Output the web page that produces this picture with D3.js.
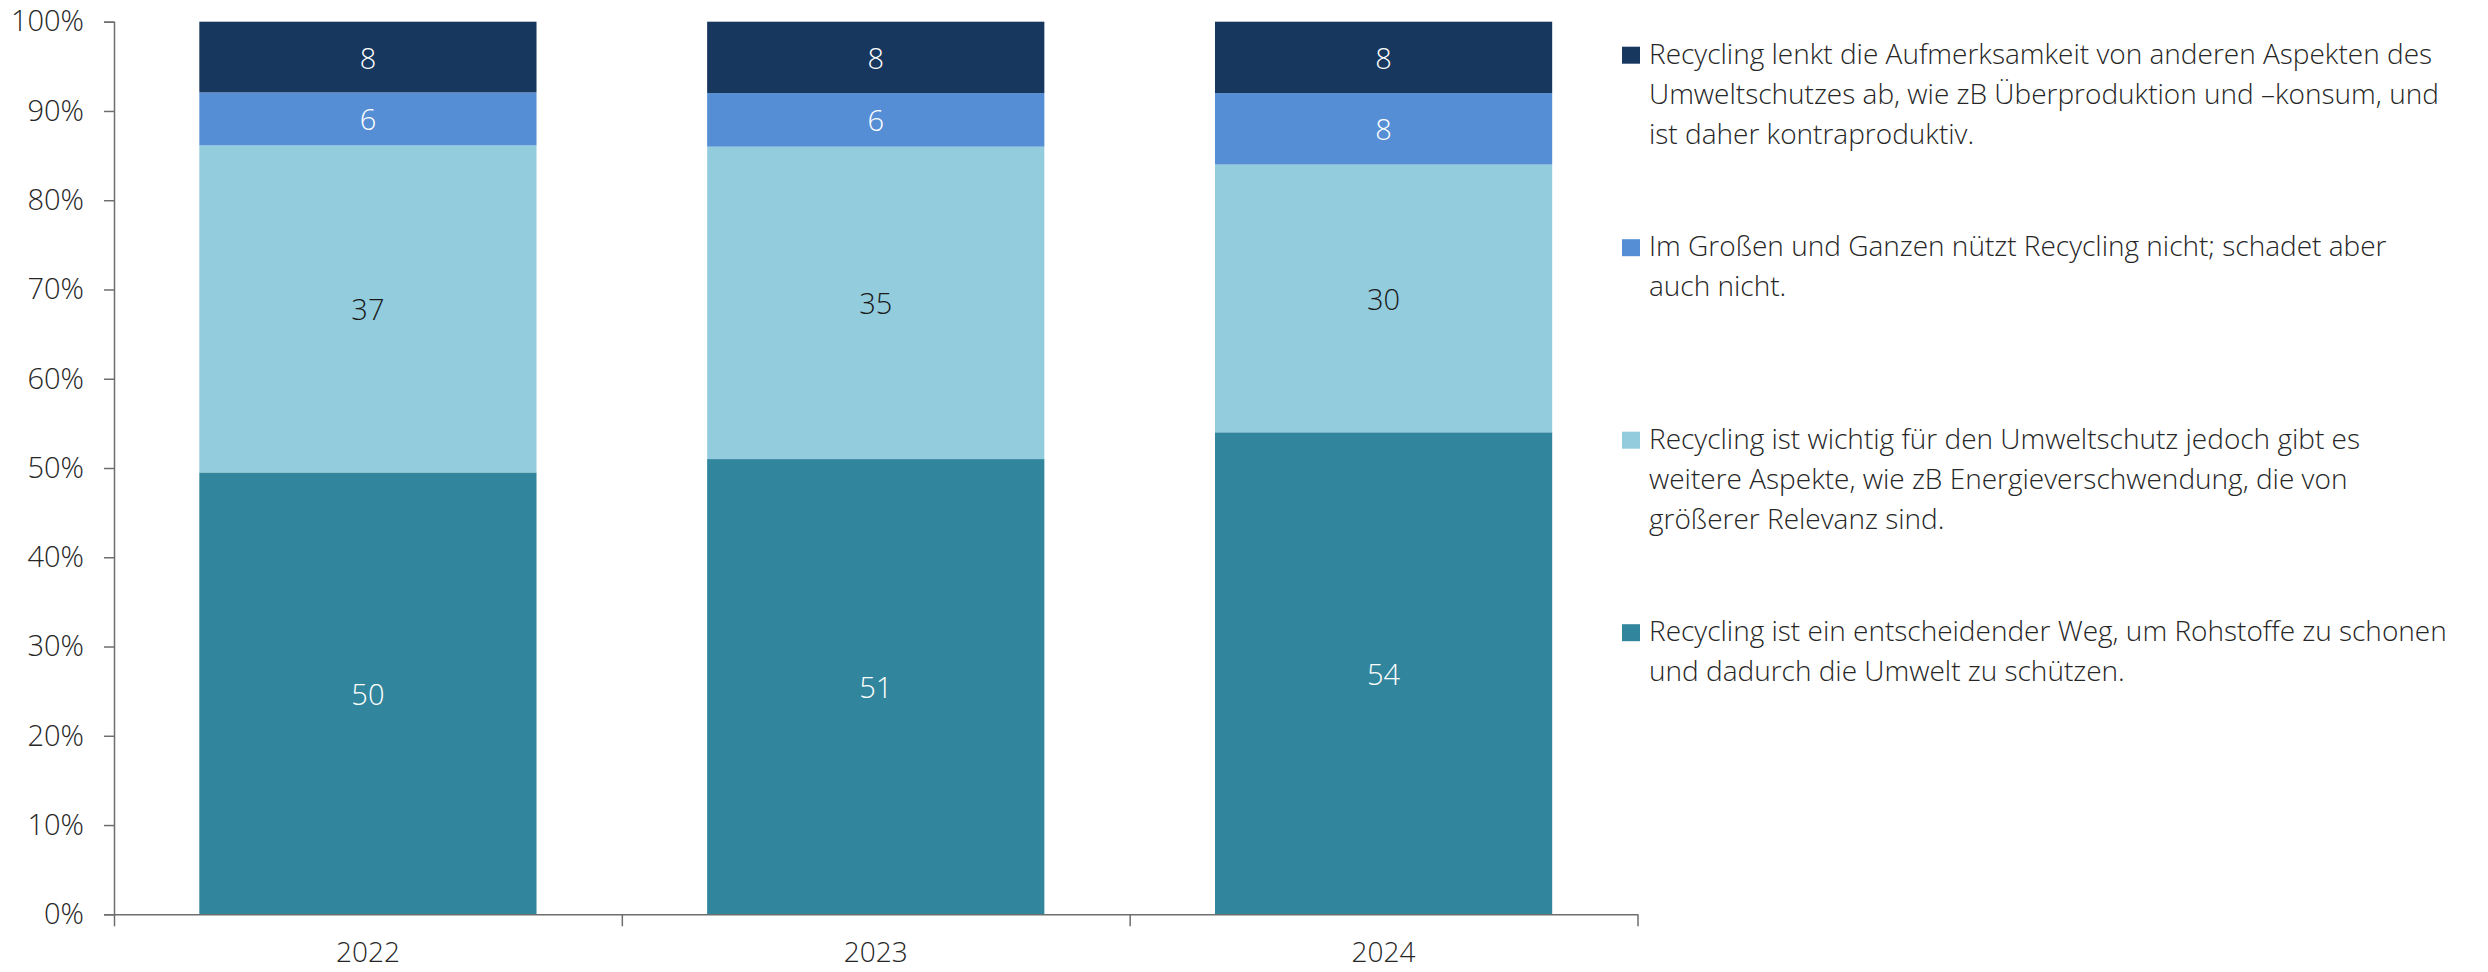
<!DOCTYPE html>
<html>
<head>
<meta charset="utf-8">
<script src="https://cdn.jsdelivr.net/npm/d3@7"></script>
<style>
  html, body { margin: 0; padding: 0; background: #ffffff; }
  svg { display: block; }
  text { font-family: "Open Sans", "Noto Sans", sans-serif; font-weight: 300; }
</style>
</head>
<body>
<svg id="chart" width="2488" height="972"></svg>
<script>
// ---- data ----
const categories = ["2022", "2023", "2024"];
const seriesKeys = ["s1", "s2", "s3", "s4"];
const seriesEntscheidend = [50, 51, 54];   // Recycling ist ein entscheidender Weg ...
const seriesWichtig      = [37, 35, 30];   // Recycling ist wichtig ... jedoch ...
const seriesNeutral      = [6, 6, 8];      // Im Großen und Ganzen ...
const seriesAblenkung    = [8, 8, 8];      // Recycling lenkt die Aufmerksamkeit ...
const yTickLabels = ["0%", "10%", "20%", "30%", "40%", "50%", "60%", "70%", "80%", "90%", "100%"];
const legendLines = {
  s4: ["Recycling lenkt die Aufmerksamkeit von anderen Aspekten des",
       "Umweltschutzes ab, wie zB Überproduktion und \u2013konsum, und",
       "ist daher kontraproduktiv."],
  s3: ["Im Großen und Ganzen nützt Recycling nicht; schadet aber",
       "auch nicht."],
  s2: ["Recycling ist wichtig für den Umweltschutz jedoch gibt es",
       "weitere Aspekte, wie zB Energieverschwendung, die von",
       "größerer Relevanz sind."],
  s1: ["Recycling ist ein entscheidender Weg, um Rohstoffe zu schonen",
       "und dadurch die Umwelt zu schützen."]
};
const colors = { s1: "#31859C", s2: "#93CDDD", s3: "#558ED5", s4: "#17375E" };
const labelColors = { s1: "#ffffff", s2: "#1a1a1a", s3: "#ffffff", s4: "#ffffff" };

const table = categories.map((c, i) => ({
  cat: c,
  s1: seriesEntscheidend[i],
  s2: seriesWichtig[i],
  s3: seriesNeutral[i],
  s4: seriesAblenkung[i]
}));

// ---- layout ----
const plotLeft = 114, plotRight = 1637.5, plotTop = 21.7, plotBottom = 914.3;
const svg = d3.select("#chart");

const x = d3.scaleBand().domain(categories).range([plotLeft, plotRight])
  .paddingInner(0.336).paddingOuter(0.168);
const y = d3.scaleLinear().domain([0, 1]).range([plotBottom, plotTop]);

const stack = d3.stack().keys(seriesKeys).offset(d3.stackOffsetExpand);
const stacked = stack(table);

// bars
const g = svg.append("g");
stacked.forEach(layer => {
  const key = layer.key;
  g.selectAll(null).data(layer).join("rect")
    .attr("x", d => x(d.data.cat))
    .attr("width", x.bandwidth())
    .attr("y", d => y(d[1]))
    .attr("height", d => y(d[0]) - y(d[1]))
    .attr("fill", colors[key]);
});
stacked.forEach(layer => {
  const key = layer.key;
  g.selectAll(null).data(layer).join("text")
    .attr("x", d => x(d.data.cat) + x.bandwidth() / 2)
    .attr("y", d => (y(d[0]) + y(d[1])) / 2)
    .attr("text-anchor", "middle")
    .attr("dominant-baseline", "central")
    .attr("font-size", 29)
    .attr("fill", labelColors[key])
    .text(d => d.data[key]);
});

const axisColor = "#6e6e6e";

// y axis
const yAxis = d3.axisLeft(y)
  .tickValues(d3.range(0, 11).map(i => i / 10))
  .tickFormat((d, i) => yTickLabels[i])
  .tickSizeInner(10).tickSizeOuter(10).tickPadding(20);
const ya = svg.append("g").attr("transform", `translate(${plotLeft},0)`).call(yAxis);
ya.select(".domain").attr("stroke", axisColor).attr("stroke-width", 1.5);
ya.selectAll(".tick line").attr("stroke", axisColor).attr("stroke-width", 1.5);
ya.selectAll(".tick text").attr("font-size", 29).attr("fill", "#262626")
  .attr("font-family", "'Open Sans', sans-serif").attr("font-weight", 300);

// x axis: boundary ticks
const xb = d3.scaleLinear().domain([0, categories.length]).range([plotLeft, plotRight]);
const xTicks = d3.axisBottom(xb).tickValues(d3.range(0, categories.length + 1))
  .tickFormat("").tickSizeInner(12).tickSizeOuter(0);
const xa = svg.append("g").attr("transform", `translate(0,${plotBottom})`).call(xTicks);
xa.select(".domain").attr("stroke", axisColor).attr("stroke-width", 1.5);
xa.selectAll(".tick line").attr("stroke", axisColor).attr("stroke-width", 1.5);

// x labels
const xLabels = d3.axisBottom(x).tickSize(0).tickPadding(28);
const xl = svg.append("g").attr("transform", `translate(0,${plotBottom})`).call(xLabels);
xl.select(".domain").remove();
xl.selectAll(".tick text").attr("font-size", 28).attr("fill", "#262626")
  .attr("font-family", "'Open Sans', sans-serif").attr("font-weight", 300);

// legend
const legendOrder = ["s4", "s3", "s2", "s1"];
const lx = 1622, ly0 = 46.7, itemStep = 192.5, lineH = 40;
legendOrder.forEach((key, i) => {
  const yTop = ly0 + i * itemStep;
  svg.append("rect").attr("x", lx).attr("y", yTop).attr("width", 18).attr("height", 17)
    .attr("fill", colors[key]);
  const t = svg.append("text").attr("font-size", 28).attr("fill", "#262626");
  legendLines[key].forEach((line, j) => {
    t.append("tspan").attr("x", lx + 27).attr("y", yTop + 17 + j * lineH).text(line);
  });
});
</script>
</body>
</html>
